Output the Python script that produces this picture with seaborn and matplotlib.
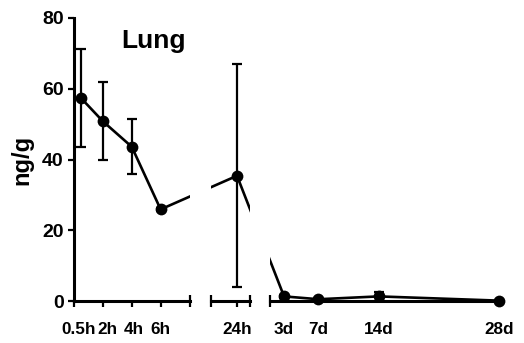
import numpy as np
import matplotlib
matplotlib.use("Agg")
import matplotlib.pyplot as plt
import matplotlib.transforms as mtransforms
import seaborn as sns

# ---- data (time in hours) ----
times_h = np.array([0.5, 2, 4, 6, 24, 72, 168, 336, 672])
tick_labels = ["0.5h", "2h", "4h", "6h", "24h", "3d", "7d", "14d", "28d"]
mean_vals = np.array([57.3, 50.8, 43.6, 25.9, 35.4, 1.3, 0.5, 1.3, 0.1])
sd_vals = np.array([13.9, 11.0, 7.8, 0.4, 31.5, 0.4, 0.3, 1.2, 0.2])
segment_of = np.array([0, 0, 0, 0, 1, 2, 2, 2, 2])
y_ticks = [0, 20, 40, 60, 80]

sns.set_theme(style="white")
plt.rcParams["font.family"] = ["Liberation Sans", "DejaVu Sans"]
plt.rcParams["font.weight"] = "bold"
plt.rcParams["text.color"] = "black"
plt.rcParams["axes.labelcolor"] = "black"
plt.rcParams["xtick.color"] = "black"
plt.rcParams["ytick.color"] = "black"

W, H = 524, 343
fig = plt.figure(figsize=(W / 100, H / 100), dpi=100)
bottom = 1 - 301 / H
height = 283 / H
ax1 = fig.add_axes([74 / W, bottom, 115.5 / W, height])
ax2 = fig.add_axes([211 / W, bottom, 39 / W, height])
ax3 = fig.add_axes([270 / W, bottom, 230 / W, height])
axes = [ax1, ax2, ax3]
xlims = [(0, 8), (20, 26), (32.9, 674)]

lw_spine = 2.2
for ax, lim in zip(axes, xlims):
    ax.set_xlim(*lim)
    ax.set_ylim(0, 80)
    ax.set_facecolor("none")
    for s in ["top", "right"]:
        ax.spines[s].set_visible(False)
    ax.spines["bottom"].set_linewidth(lw_spine)
    ax.spines["bottom"].set_color("black")
    ax.spines["left"].set_linewidth(lw_spine)
    ax.spines["left"].set_color("black")
    ax.tick_params(axis="x", which="major", direction="out", length=4.5, width=1.6,
                   color="black", labelcolor="black", labelsize=12.3, pad=10.5, bottom=True)
    ax.tick_params(axis="x", which="minor", direction="inout", length=9, width=1.6,
                   color="black", bottom=True)

# y axis only on first segment
ax1.set_yticks(y_ticks)
ax1.tick_params(axis="y", direction="out", length=4.5, width=1.6, color="black",
                labelcolor="black", labelsize=14, pad=3, left=True)
ax1.set_ylabel("ng/g", fontsize=17, fontweight="bold", labelpad=6, color="black")
for ax in (ax2, ax3):
    ax.spines["left"].set_visible(False)
    ax.set_yticks([])

# x ticks per segment
m0 = segment_of == 0
ax1.set_xticks([0] + list(times_h[m0]))
ax1.set_xticklabels([""] + [tick_labels[i] for i in np.where(m0)[0]], fontweight="bold")
ax1.xaxis.get_major_ticks()[1].tick1line.set_visible(False)
ax1.set_xticks([8], minor=True)
# small horizontal nudges so crowded labels do not collide
nudges_px = [0, -3, 5, 2, 0]
for lab, dx in zip(ax1.get_xticklabels(), nudges_px):
    lab.set_transform(lab.get_transform() +
                      mtransforms.ScaledTranslation(dx / 100, 0, fig.dpi_scale_trans))

m1 = segment_of == 1
ax2.set_xticks(times_h[m1])
ax2.set_xticklabels([tick_labels[i] for i in np.where(m1)[0]], fontweight="bold")
ax2.set_xticks([20, 26], minor=True)

m2 = segment_of == 2
ax3.set_xticks(times_h[m2])
ax3.set_xticklabels([tick_labels[i] for i in np.where(m2)[0]], fontweight="bold")
ax3.tick_params(axis="x", which="major", width=0)
ax3.set_xticks([32.9], minor=True)

# connecting line drawn straight in display space, broken at gaps
disp = np.array([axes[s].transData.transform((t, v))
                 for t, v, s in zip(times_h, mean_vals, segment_of)])
for ax in axes:
    xs = ax.transData.inverted().transform(disp)[:, 0]
    sns.lineplot(x=xs, y=mean_vals, ax=ax, sort=False, estimator=None,
                 color="black", linewidth=1.9, zorder=3)

# markers and error bars in each segment
for k, ax in enumerate(axes):
    m = segment_of == k
    ax.errorbar(times_h[m], mean_vals[m], yerr=sd_vals[m], fmt="none",
                ecolor="black", elinewidth=1.6, capsize=3.8, capthick=1.6, zorder=4)
    sns.scatterplot(x=times_h[m], y=mean_vals[m], ax=ax, s=72, color="black",
                    edgecolor="black", linewidth=0, zorder=5, clip_on=False)

ax1.text(3.3, 71.5, "Lung", fontsize=19, fontweight="bold", va="baseline", ha="left",
         color="black")

fig.savefig("out.png", dpi=100)
